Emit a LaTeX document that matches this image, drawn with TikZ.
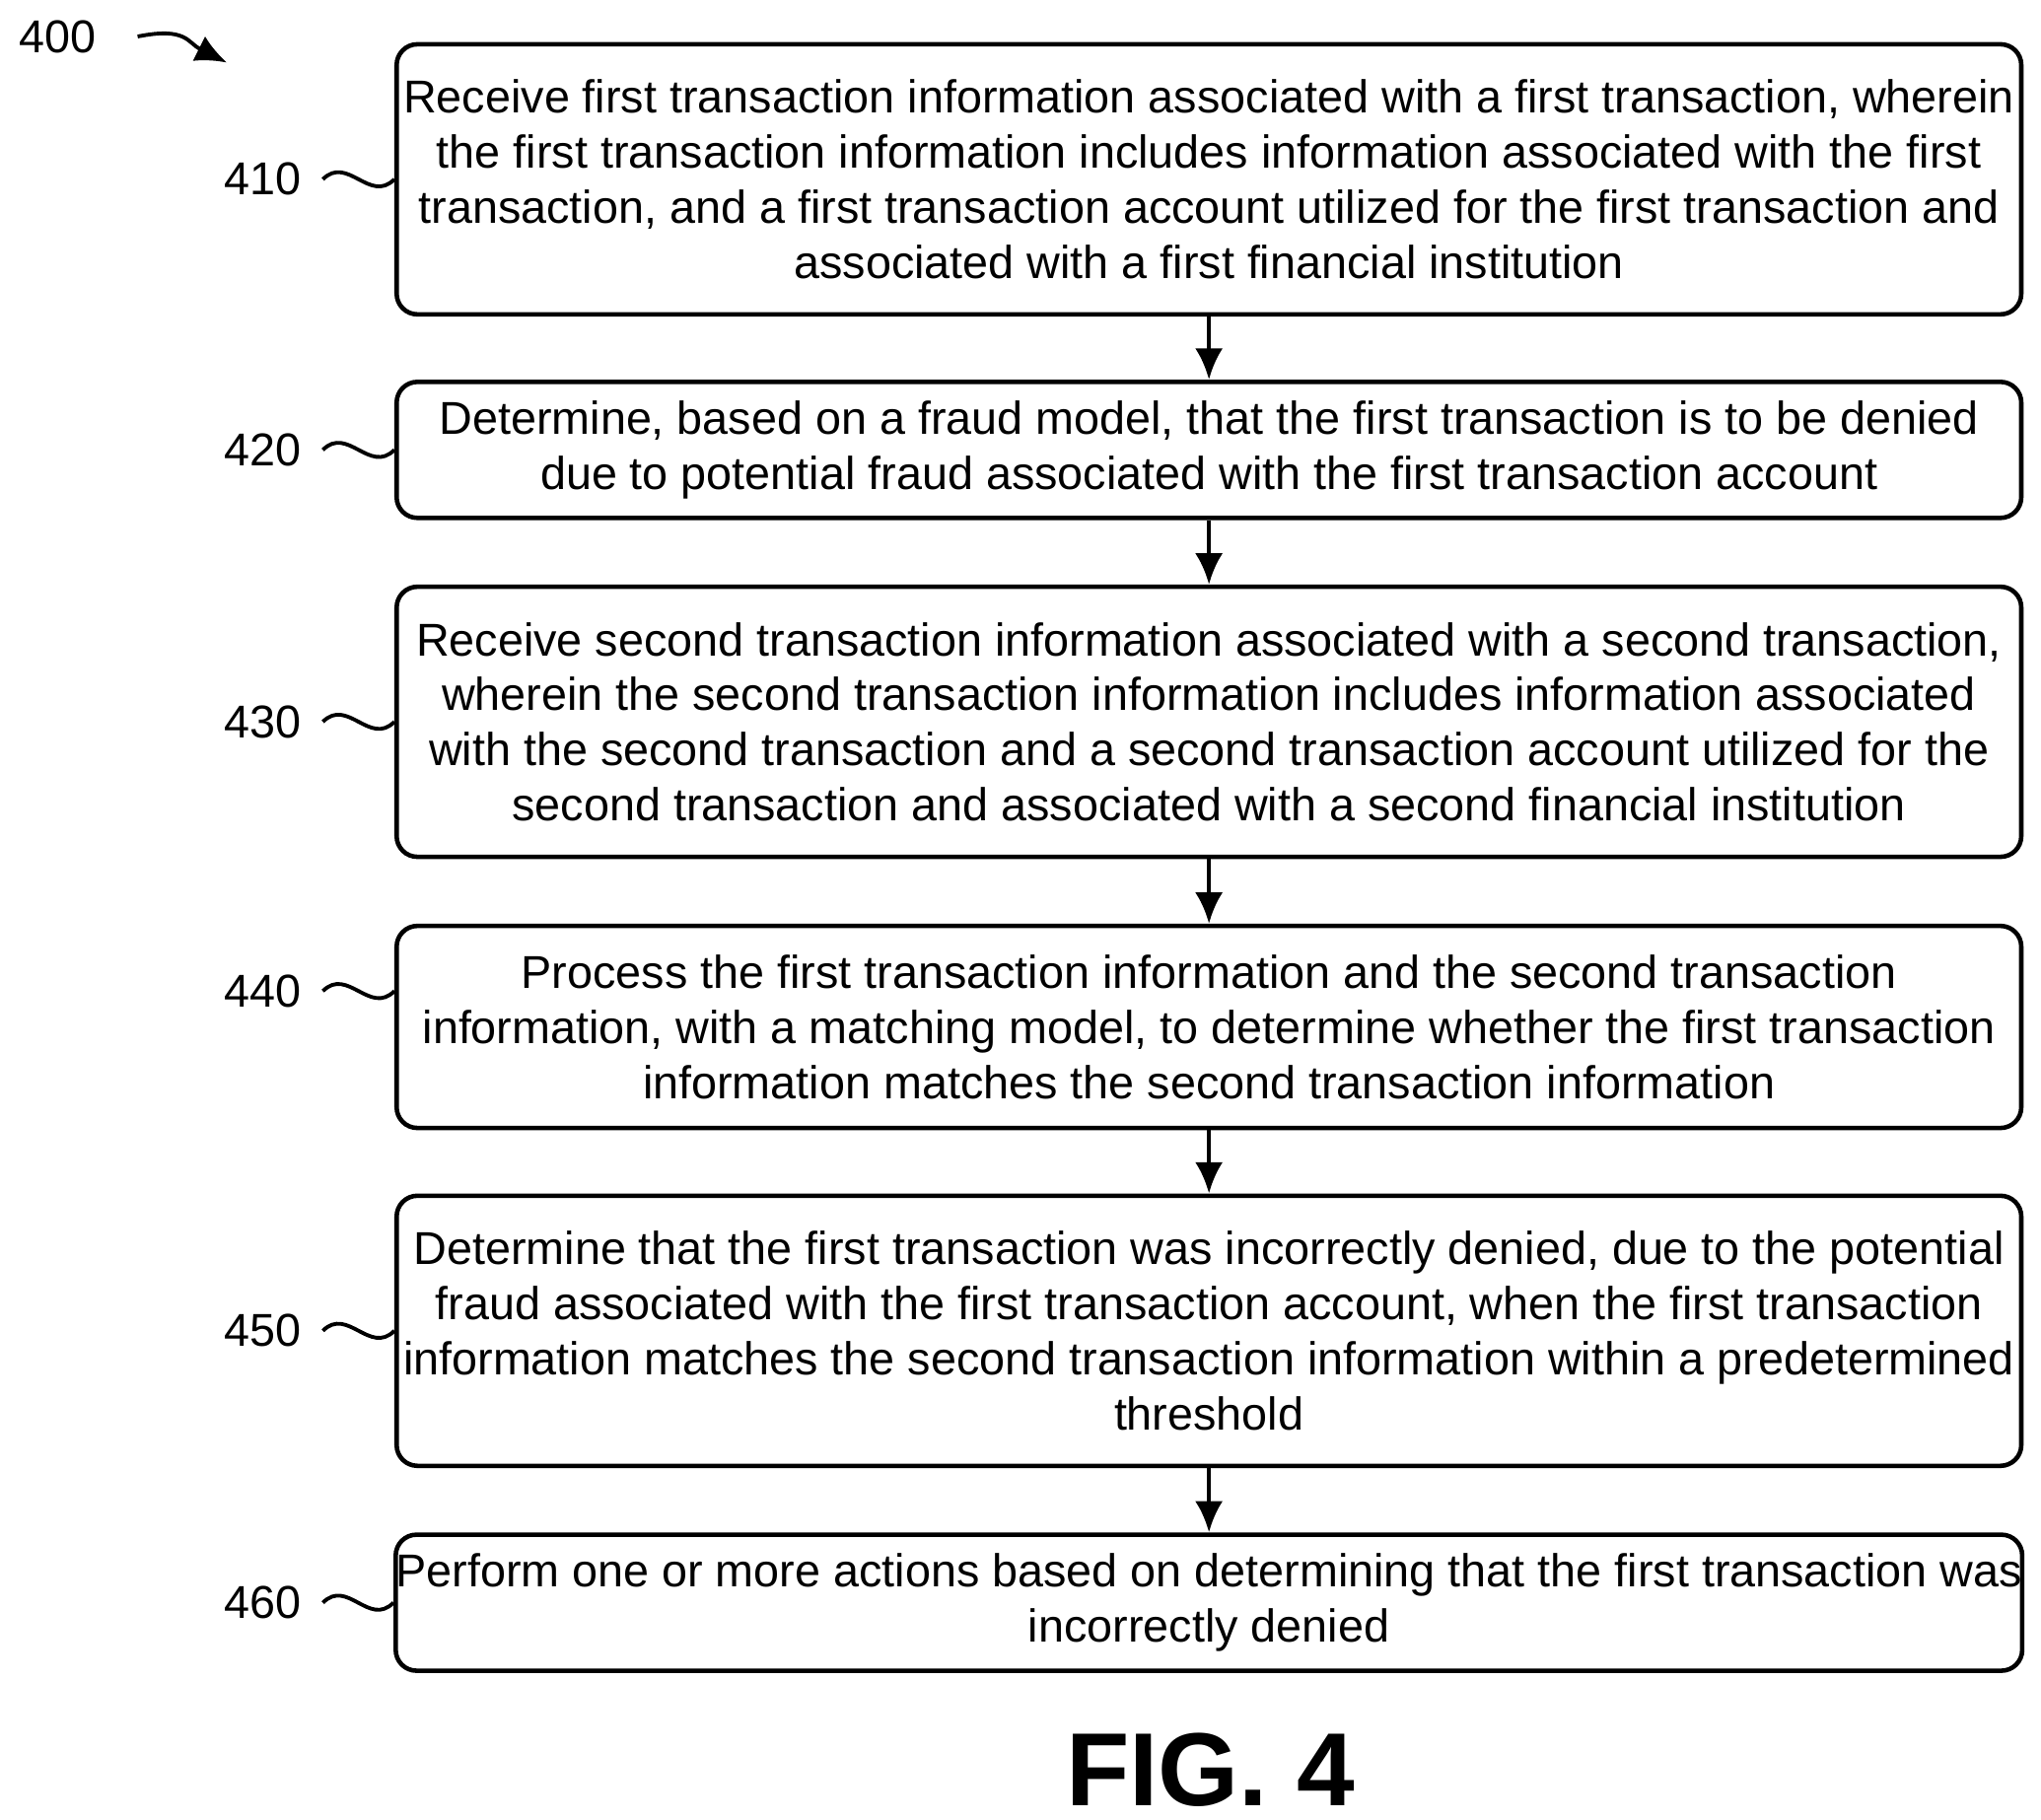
\documentclass[tikz,border=0pt]{standalone}
\usepackage{fontspec}
\setmainfont{Liberation Sans}
\usetikzlibrary{arrows.meta}
\tikzstyle{stepbox} = [draw, line width=1.3pt, rounded corners=6pt, minimum width=16.48cm, align=center, font=\fontsize{13.3}{15.9}\selectfont, inner sep=0pt]
\tikzstyle{ref} = [font=\fontsize{13.3}{15.9}\selectfont, anchor=east]
\tikzstyle{flow} = [line width=1.3pt, -{Latex[length=9pt,width=8pt]}]
\newcommand{\wiggle}[2]{\draw[line width=1.1pt] (#1.east) ++(0.1cm,0) .. controls +(0.25cm,0.25cm) and +(-0.25cm,-0.25cm) .. (#2.west |- #1.east);}
\begin{document}
\begin{tikzpicture}[x=0.013227cm, y=-0.013227cm]
		\useasboundingbox (0,0) rectangle (1565,1395);
		
		% Boxes
		\node[stepbox, minimum height=2.74cm] (b410) at (927,137.5) {Receive first transaction information associated with a first transaction, wherein\\the first transaction information includes information associated with the first\\transaction, and a first transaction account utilized for the first transaction and\\associated with a first financial institution};
		\node[stepbox, minimum height=1.38cm] (b420) at (927,345) {Determine, based on a fraud model, that the first transaction is to be denied\\due to potential fraud associated with the first transaction account};
		\node[stepbox, minimum height=2.74cm] (b430) at (927,553.5) {Receive second transaction information associated with a second transaction,\\wherein the second transaction information includes information associated\\with the second transaction and a second transaction account utilized for the\\second transaction and associated with a second financial institution};
		\node[stepbox, minimum height=2.05cm] (b440) at (927,787.5) {Process the first transaction information and the second transaction\\information, with a matching model, to determine whether the first transaction\\information matches the second transaction information};
		\node[stepbox, minimum height=2.74cm] (b450) at (927,1020.5) {Determine that the first transaction was incorrectly denied, due to the potential\\fraud associated with the first transaction account, when the first transaction\\information matches the second transaction information within a predetermined\\threshold};
		\node[stepbox, minimum height=1.38cm] (b460) at (927,1229) {Perform one or more actions based on determining that the first transaction was\\incorrectly denied};
		
		% Labels
		\foreach \n/\y in {410/137.5, 420/345, 430/553.5, 440/760, 450/1020.5, 460/1229}
		{
			\node[ref] (l\n) at (240,\y) {\n};
			\wiggle{l\n}{b\n}
		}
		
		% Arrows
		\draw[flow] (b410) -- (b420);
		\draw[flow] (b420) -- (b430);
		\draw[flow] (b430) -- (b440);
		\draw[flow] (b440) -- (b450);
		\draw[flow] (b450) -- (b460);
		
		% Figure number
		\node[ref, anchor=center] (l400) at (44,28) {400};
		\coordinate (t400) at (174,48);
		\draw[line width=1.1pt, -{Latex[length=9pt,width=8pt]}] (l400.east) ++(0.3cm,0) .. controls +(0.5cm,0.1cm) and +(-0.4cm,0.2cm) .. (t400);
		\node[font=\bfseries\fontsize{30}{34}\selectfont] (fig) at (928,1357) {FIG. 4};
	\end{tikzpicture}
\end{document}
